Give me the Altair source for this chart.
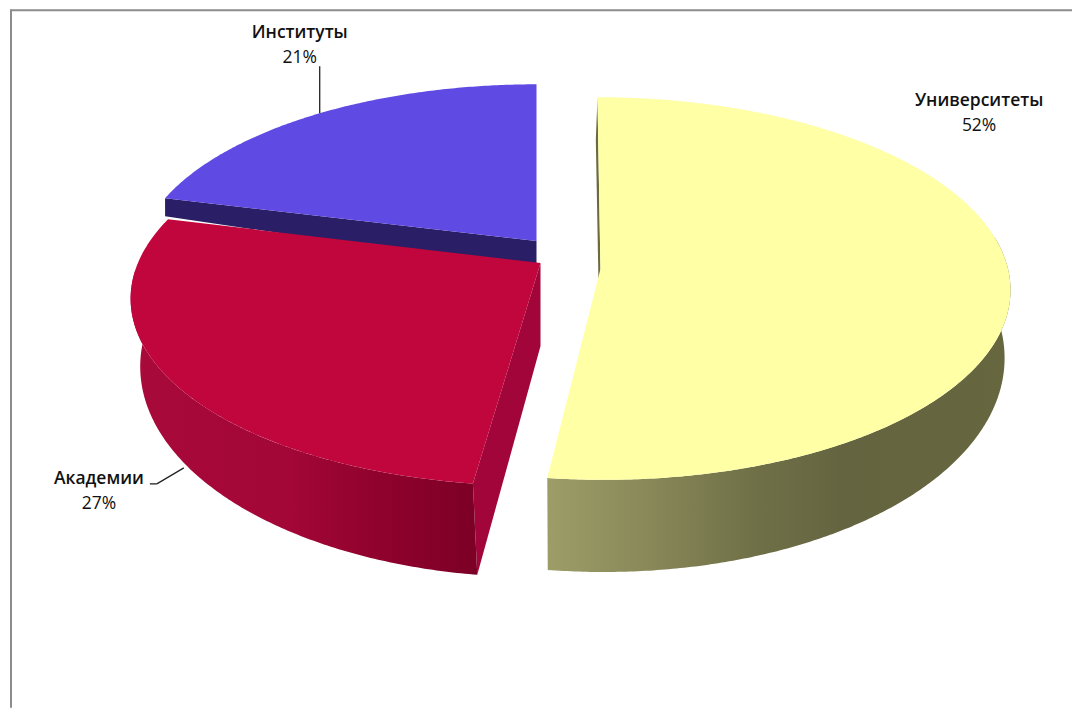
import math
import altair as alt

# Data
categories = ["Университеты", "Академии", "Институты"]
shares = [52, 27, 21]

# Perspective view of each exploded slice (page pixels): top disc, bottom disc,
# and the bottom end of the vertical edge at the slice's centre
VIEW = {
    "Университеты": {"top": dict(ax=601, ay=268, R=408, Ry=189.5, k=0.1016, S=3.3),
                      "bot": dict(ax=600, ay=333, R=403, Ry=214, k=0.1016, S=4),
                      "edge": 333},
    "Академии": {"top": dict(ax=541, ay=262, R=403, Ry=184, k=0.174, S=-5.5),
                  "bot": dict(ax=541, ay=327, R=394, Ry=206, k=0.174, S=-3),
                  "edge": 345},
    "Институты": {"top": dict(ax=537, ay=240, R=397, Ry=178.6, k=0.138, S=0),
                   "bot": dict(ax=537, ay=258, R=397, Ry=178.6, k=0.138, S=0),
                   "edge": 270},
}
OX, OY = 8, 8  # page margin


def pt(p, deg):
    a = math.radians(deg)
    u, v = math.sin(a), -math.cos(a)
    w = 1 - p["k"] * v
    return [p["ax"] + (p["R"] * u + p["S"] * v) / w - OX, p["ay"] + p["Ry"] * v / w - OY]


def rim(p, a0, a1):
    n = max(2, int(abs(a1 - a0) * 2))
    return [pt(p, a0 + (a1 - a0) * i / n) for i in range(n + 1)]


def apex(p):
    return [p["ax"] - OX, p["ay"] - OY]


def feature(ring):
    ring = ring + [ring[0]]
    return {"type": "Feature", "properties": {}, "geometry": {"type": "Polygon", "coordinates": [ring]}}


bounds = {}
acc = 0
for c, s in zip(categories, shares):
    bounds[c] = (acc * 3.6, (acc + s) * 3.6)
    acc += s


def top_face(c):
    p = VIEW[c]["top"]
    a0, a1 = bounds[c]
    return feature([apex(p)] + rim(p, a0, a1))


def cut_face(c, deg):
    t, b = VIEW[c]["top"], VIEW[c]["bot"]
    return feature([apex(t), pt(t, deg), pt(b, deg), [b["ax"] - OX, VIEW[c]["edge"] - OY]])


def wall(c, a0, a1):
    t, b = VIEW[c]["top"], VIEW[c]["bot"]
    return feature(rim(t, a0, a1) + rim(b, a1, a0))


def shape(feat, fill):
    return (
        alt.Chart(alt.Data(values=[feat]))
        .mark_geoshape(fill=fill, strokeWidth=0)
        .project(type="identity", scale=1, translate=[0, 0])
    )


def grad(stops):
    return alt.Gradient(
        gradient="linear", x1=0, x2=1, y1=0, y2=0,
        stops=[alt.GradientStop(offset=o, color=col) for o, col in stops],
    )


U, A, I = categories
yellow_wall = grad([(0, "#9d9d68"), (0.2, "#8a8a5a"), (0.33, "#7c7c50"), (0.46, "#6f6f47"), (0.64, "#646440"), (1, "#66663f")])
red_wall = grad([(0, "#a80a3a"), (0.45, "#a30737"), (0.7, "#91022e"), (1, "#7c0026")])

layers = [
    shape(cut_face(I, bounds[I][0]), "#2a1f66"),
    shape(top_face(I), "#5f4ae3"),
    shape(cut_face(A, bounds[A][0]), "#a2053a"),
    shape(wall(A, bounds[A][0], 268), red_wall),
    shape(top_face(A), "#c0063c"),
    shape(cut_face(U, 0), "#6b6b40"),
    shape(wall(U, 80, bounds[U][1]), yellow_wall),
    shape(top_face(U), "#ffffa6"),
]


def rule(x1, y1, x2, y2, color="#222222", w=1.3):
    return alt.Chart(alt.Data(values=[{"a": 1}])).mark_rule(color=color, strokeWidth=w).encode(
        x=alt.value(x1 - OX), x2=alt.value(x2 - OX), y=alt.value(y1 - OY), y2=alt.value(y2 - OY)
    )


layers += [
    rule(11, 9, 1073, 9, "#8c8c8c", 2),
    rule(11, 8, 11, 707, "#8c8c8c", 2),
    rule(320, 65, 320, 112),
    rule(150, 483, 157, 483),
    rule(157, 483, 184, 467),
]

label_pos = {U: (980, 100), A: (99, 478), I: (300, 32)}
for c, s in zip(categories, shares):
    x, y = label_pos[c]
    for txt, dy, fw in ((c, 0, 600), (f"{s}%", 25, 500)):
        layers.append(
            alt.Chart(alt.Data(values=[{"t": txt}]))
            .mark_text(font="Open Sans", fontSize=17.5, fontWeight=fw, color="#111111", align="center", baseline="middle")
            .encode(text="t:N", x=alt.value(x - OX), y=alt.value(y + dy - OY))
        )

chart = (
    alt.layer(*layers)
    .properties(width=1065, height=699, padding=0, background="white")
    .configure_view(stroke=None)
)
chart.save("out.html", embed_options={"renderer": "svg", "actions": False})
